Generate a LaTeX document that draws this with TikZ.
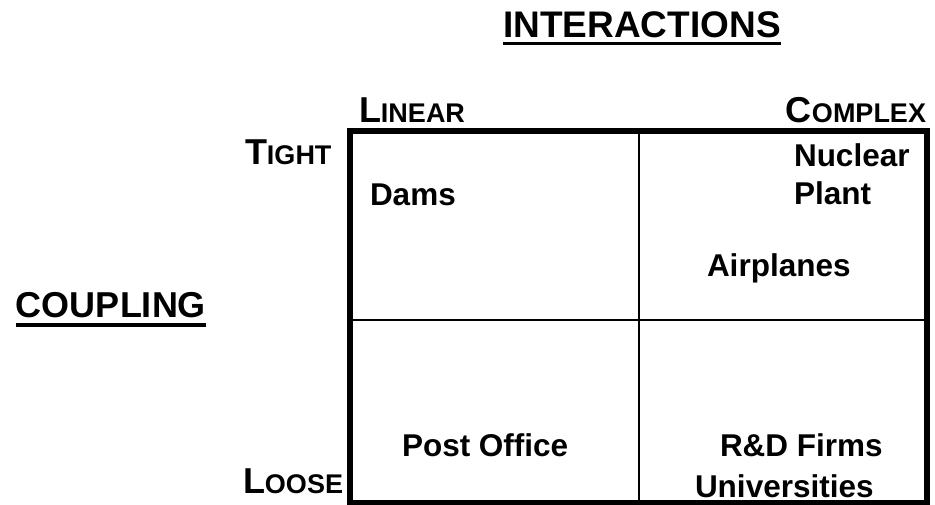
\documentclass[tikz,border=0pt]{standalone}
\usepackage{fontspec}
\setmainfont{Liberation Sans}
\newcommand{\capsmall}[2]{{\fontsize{36}{40}\selectfont #1}{\fontsize{27}{30}\selectfont #2}}
\begin{document}
\begin{tikzpicture}[x=1pt,y=-1pt,
  txt/.style={inner sep=0pt,outer sep=0pt,font=\bfseries},
  cell/.style={txt,font=\bfseries\fontsize{31.5}{36}\selectfont,anchor=base west},
  head/.style={txt,font=\bfseries\fontsize{37}{42}\selectfont,anchor=base},
  axis/.style={txt,font=\bfseries},
  frame/.style={line width=6pt,line join=miter},
  divider/.style={line width=2pt},
  uline/.style={line width=3.5pt}]
\useasboundingbox (0,0) rectangle (935,505);

% outer frame of the matrix
\coordinate (tl) at (350,131);
\coordinate (br) at (927,503);
\draw[frame] (tl) rectangle (br);
% quadrant dividers
\coordinate (vt) at (639,131);
\coordinate (vb) at (639,503);
\coordinate (hl) at (350,320);
\coordinate (hr) at (927,320);
\draw[divider] (vt) -- (vb);
\draw[divider] (hl) -- (hr);

% titles
\node[head] (inter) at (642,38) {INTERACTIONS};
\draw[uline] ([yshift=-5.5pt]inter.base west) -- ([yshift=-5.5pt]inter.base east);
\node[head,font=\bfseries\fontsize{36}{42}\selectfont] (coup) at (111,318) {COUPLING};
\draw[uline] ([yshift=-7pt]coup.base west) -- ([yshift=-7pt]coup.base east);

% axis labels
\node[axis,anchor=base west] (lin) at (359,123) {\capsmall{L}{INEAR}};
\node[axis,anchor=base east] (cpx) at (926,123) {\capsmall{C}{OMPLEX}};
\node[axis,anchor=base west] (tight) at (245,165) {\capsmall{T}{IGHT}};
\node[axis,anchor=base west] (loose) at (243,493) {\capsmall{L}{OOSE}};

% quadrant entries
\node[cell] (dams) at (370,206) {Dams};
\node[cell] (nuc) at (794,167) {Nuclear};
\node[cell] (plant) at (794,205) {Plant};
\node[cell] (air) at (707,277) {Airplanes};
\node[cell] (post) at (402,456) {Post Office};
\node[cell] (rd) at (720,456) {R\&D Firms};
\node[cell] (univ) at (695,497) {Universities};
\end{tikzpicture}
\end{document}
